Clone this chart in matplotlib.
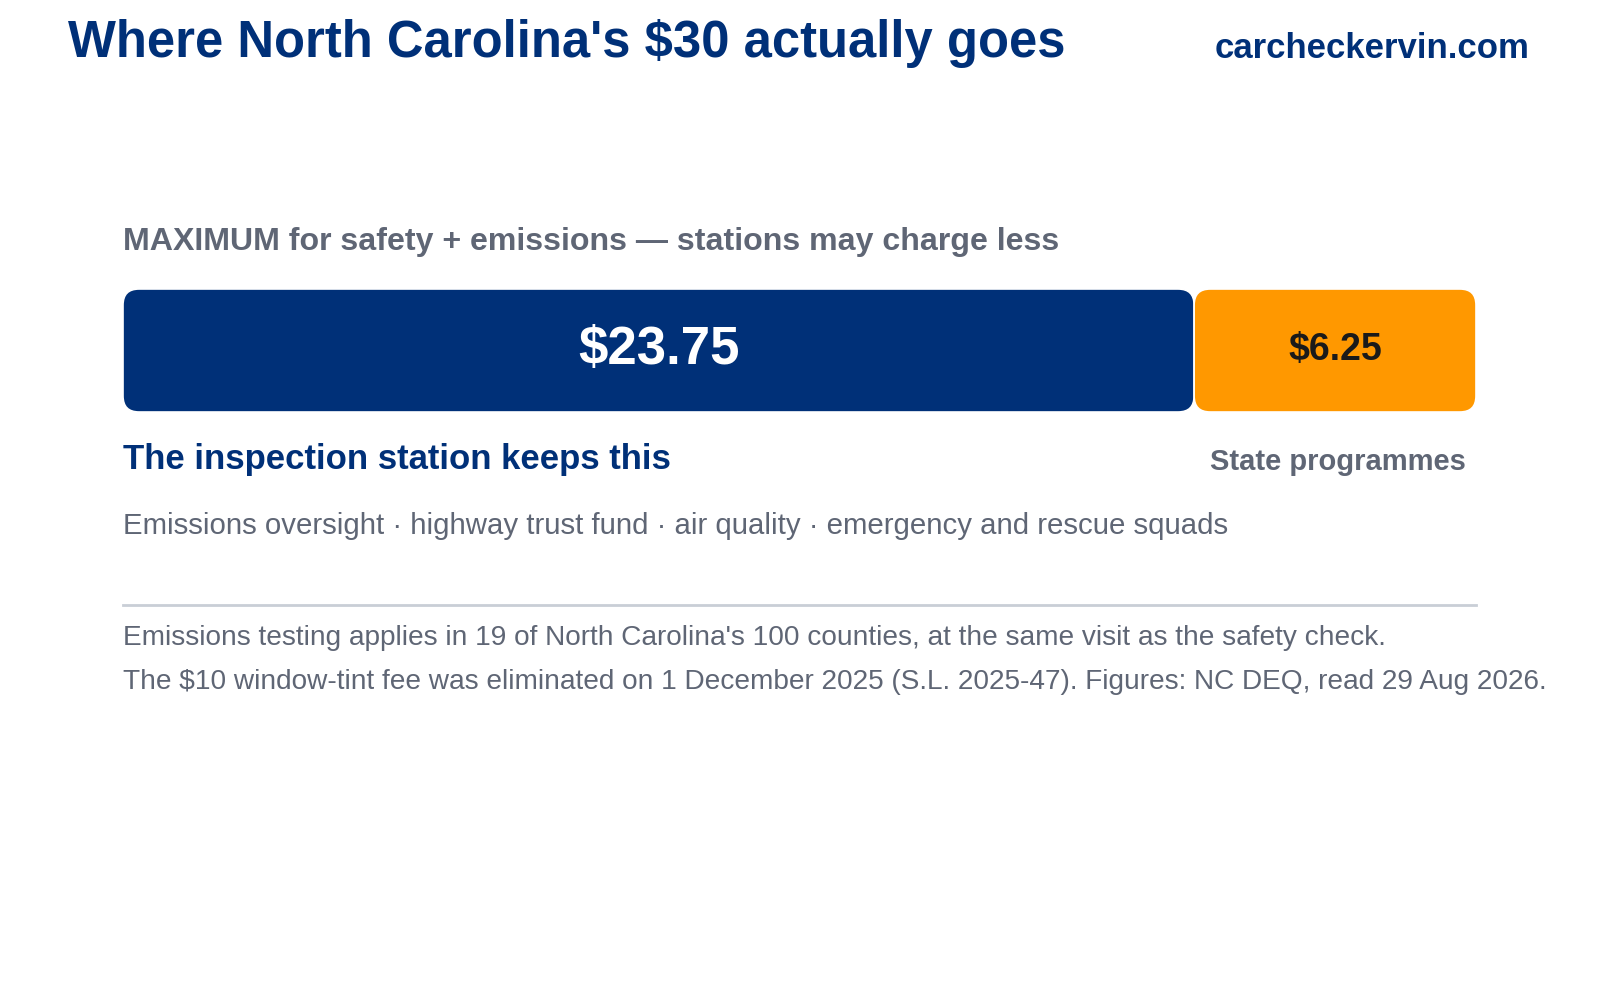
import matplotlib
matplotlib.use("Agg")
import matplotlib.pyplot as plt
from matplotlib.patches import FancyBboxPatch

plt.rcParams['font.family'] = ['Liberation Sans', 'DejaVu Sans']

segments = ["The inspection station keeps this", "State programmes"]
values = [23.75, 6.25]
value_labels = ["$23.75", "$6.25"]
colors = ["#003078", "#FF9800"]
label_colors = ["white", "#1a1a1a"]

NAVY = "#003078"
GRAY = "#5f6675"

fig = plt.figure(figsize=(16, 10), dpi=100)
W, H = 1600, 1000

def fx(x): return x / W
def fy(y): return 1 - y / H

fig.text(fx(68), fy(44), "Where North Carolina's $30 actually goes", fontsize=36.5,
         fontweight='bold', color=NAVY, va='center', ha='left')
fig.text(fx(1530), fy(48), "carcheckervin.com", fontsize=25, fontweight='bold',
         color=NAVY, va='center', ha='right')
fig.text(fx(123), fy(242), "MAXIMUM for safety + emissions \u2014 stations may charge less",
         fontsize=23.1, fontweight='bold', color=GRAY, va='center', ha='left')

total = sum(values)
L, R, T, B = 123, 1476, 289, 412
ax = fig.add_axes([fx(L), fy(B), (R - L) / W, (B - T) / H])
ax.set_xlim(0, total)
ax.set_ylim(0, 1)
ax.axis('off')
px_per_x = (R - L) / total
px_per_y = (B - T)
rs = 16 / px_per_x
aspect = px_per_x / px_per_y
left = 0
for v, c, lab, lc in zip(values, colors, value_labels, label_colors):
    p = FancyBboxPatch((left, 0), v, 1, boxstyle=f"round,pad=0,rounding_size={rs}",
                       mutation_aspect=aspect, facecolor=c, edgecolor='white', linewidth=1.2)
    ax.add_patch(p)
    fs = 38 if v > 10 else 27
    ax.text(left + v / 2, 0.5, lab, fontsize=fs, fontweight='bold', color=lc,
            ha='center', va='center')
    left += v

fig.text(fx(123), fy(460), segments[0], fontsize=25, fontweight='bold', color=NAVY,
         va='center', ha='left')
fig.text(fx(1466), fy(462), segments[1], fontsize=21, fontweight='bold', color=GRAY,
         va='center', ha='right')
fig.text(fx(123), fy(526), "Emissions oversight \u00b7 highway trust fund \u00b7 air quality \u00b7 emergency and rescue squads",
         fontsize=21.2, color=GRAY, va='center', ha='left')

fig.add_artist(plt.Line2D([fx(123), fx(1476)], [fy(605), fy(605)], color="#c9ced6", linewidth=2))

fig.text(fx(123), fy(638), "Emissions testing applies in 19 of North Carolina's 100 counties, at the same visit as the safety check.",
         fontsize=20.2, color=GRAY, va='center', ha='left')
fig.text(fx(123), fy(682), "The $10 window-tint fee was eliminated on 1 December 2025 (S.L. 2025-47). Figures: NC DEQ, read 29 Aug 2026.",
         fontsize=20.2, color=GRAY, va='center', ha='left')

fig.savefig("out.png", dpi=100, facecolor='white')
